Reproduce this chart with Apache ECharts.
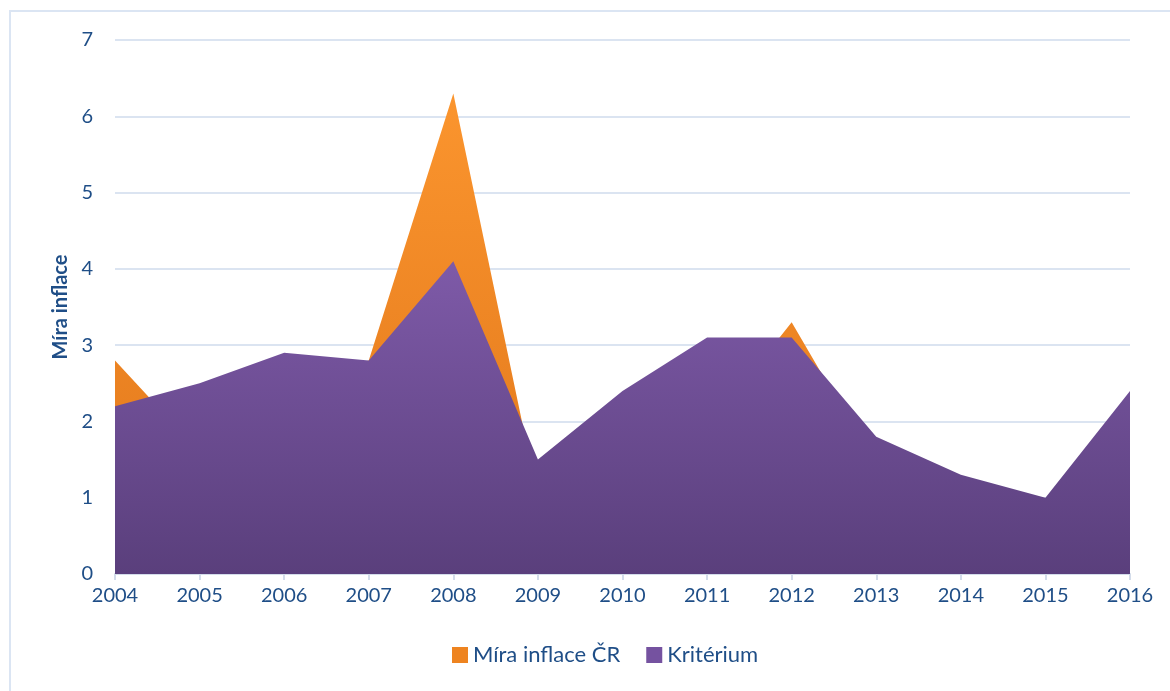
<!DOCTYPE html>
<html>
<head>
<meta charset="utf-8">
<script src="https://cdn.jsdelivr.net/npm/echarts@6/dist/echarts.min.js"></script>
<style>
  html, body { margin: 0; padding: 0; background: #fff; }
  #chart { width: 1170px; height: 691px; }
  #frame { position: absolute; left: 9px; top: 10px; width: 1170px; height: 700px; border: 2px solid #dbe5f3; box-sizing: border-box; pointer-events: none; }
</style>
</head>
<body>
<div id="chart"></div>
<div id="frame"></div>
<script>
// data
var years = ['2004', '2005', '2006', '2007', '2008', '2009', '2010', '2011', '2012', '2013', '2014', '2015', '2016'];
var inflaceCR = [2.8, 1.6, 2.5, 2.8, 6.3, 1.0, 1.5, 1.9, 3.3, 1.4, 0.4, 0.3, 0.7];
var kriterium = [2.2, 2.5, 2.9, 2.8, 4.1, 1.5, 2.4, 3.1, 3.1, 1.8, 1.3, 1.0, 2.4];

var textColor = '#1f4e87';
var font = 'Lato, "Open Sans", sans-serif';

var myChart = echarts.init(document.getElementById('chart'));
myChart.setOption({
  animation: false,
  textStyle: { fontFamily: font },
  grid: { left: 115, right: 40, top: 40, bottom: 117, containLabel: false },
  legend: {
    bottom: 20,
    left: 447,
    itemWidth: 16,
    itemHeight: 16,
    itemGap: 26,
    icon: 'rect',
    textStyle: { color: textColor, fontSize: 22, fontFamily: font },
    data: ['Míra inflace ČR', 'Kritérium']
  },
  xAxis: {
    type: 'category',
    data: years,
    boundaryGap: false,
    axisLine: { lineStyle: { color: '#d3dcea', width: 2 } },
    axisTick: { show: true, length: 6, lineStyle: { color: '#d3dcea', width: 2 } },
    axisLabel: { color: textColor, fontSize: 20, margin: 12 }
  },
  yAxis: {
    type: 'value',
    min: 0,
    max: 7,
    interval: 1,
    name: 'Míra inflace',
    nameLocation: 'middle',
    nameGap: 44,
    nameTextStyle: { color: textColor, fontSize: 20, fontWeight: 'bold' },
    axisLine: { show: false },
    axisTick: { show: false },
    axisLabel: { color: textColor, fontSize: 20, margin: 22 },
    splitLine: { lineStyle: { color: '#dbe4f1', width: 2 } }
  },
  series: [
    {
      name: 'Míra inflace ČR',
      type: 'line',
      data: inflaceCR,
      symbol: 'none',
      lineStyle: { width: 0 },
      itemStyle: { color: '#ee8420' },
      areaStyle: {
        opacity: 1,
        color: new echarts.graphic.LinearGradient(0, 0, 0, 1, [
          { offset: 0, color: '#fb952e' },
          { offset: 1, color: '#e0761a' }
        ])
      }
    },
    {
      name: 'Kritérium',
      type: 'line',
      data: kriterium,
      symbol: 'none',
      lineStyle: { width: 0 },
      itemStyle: { color: '#7552a0' },
      areaStyle: {
        opacity: 1,
        color: new echarts.graphic.LinearGradient(0, 0, 0, 1, [
          { offset: 0, color: '#7e5aa8' },
          { offset: 1, color: '#5a3f7c' }
        ])
      }
    }
  ]
});
</script>
</body>
</html>
